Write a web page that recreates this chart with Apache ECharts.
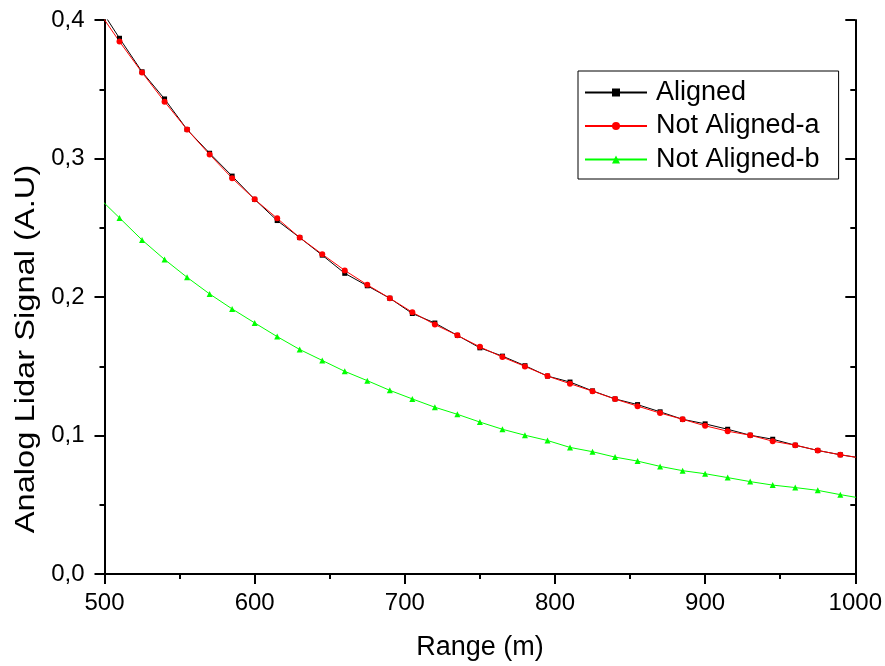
<!DOCTYPE html>
<html>
<head>
<meta charset="utf-8">
<script src="https://cdn.jsdelivr.net/npm/echarts@6/dist/echarts.min.js"></script>
<style>
html, body { margin: 0; padding: 0; background: #fff; }
#main { width: 885px; height: 666px; }
</style>
</head>
<body>
<div id="main"></div>
<script>
// range values (m), one point every 15 m
var range = [495, 510, 525, 540, 555, 570, 585, 600, 615, 630, 645, 660, 675, 690, 705, 720, 735,
    750, 765, 780, 795, 810, 825, 840, 855, 870, 885, 900, 915, 930, 945, 960, 975, 990, 1005];

var aligned = [0.412, 0.3868, 0.3626, 0.3430, 0.3209, 0.3038, 0.2873, 0.2705, 0.2552, 0.2429, 0.2302,
    0.2171, 0.2081, 0.1991, 0.1881, 0.1812, 0.1723, 0.1633, 0.1573, 0.1504, 0.1429, 0.1386, 0.1322,
    0.1264, 0.1223, 0.1171, 0.1117, 0.1084, 0.1045, 0.1002, 0.0973, 0.0930, 0.0892, 0.0861, 0.0835];

var notAlignedA = [0.408, 0.3844, 0.3621, 0.3410, 0.3209, 0.3029, 0.2858, 0.2705, 0.2568, 0.2429, 0.2309,
    0.2192, 0.2088, 0.1991, 0.1890, 0.1801, 0.1723, 0.1640, 0.1566, 0.1499, 0.1429, 0.1374, 0.1320,
    0.1263, 0.1212, 0.1162, 0.1117, 0.1070, 0.1031, 0.1002, 0.0959, 0.0930, 0.0892, 0.0861, 0.0835];

var notAlignedB = [0.273, 0.2571, 0.2412, 0.2271, 0.2142, 0.2022, 0.1914, 0.1813, 0.1714, 0.1621, 0.1542,
    0.1463, 0.1396, 0.1326, 0.1264, 0.1204, 0.1153, 0.1097, 0.1045, 0.1002, 0.0964, 0.0914, 0.0883,
    0.0844, 0.0815, 0.0777, 0.0746, 0.0724, 0.0696, 0.0667, 0.0642, 0.0624, 0.0604, 0.0573, 0.0545];

var seriesNames = ['Aligned', 'Not Aligned-a', 'Not Aligned-b'];

function pairs(ys) {
    return range.map(function (x, i) { return [x, ys[i]]; });
}

var font = 'Liberation Sans, Arial, sans-serif';
var axisLine = { lineStyle: { color: '#000', width: 2 } };

var myChart = echarts.init(document.getElementById('main'));

var option = {
    animation: false,
    grid: { left: 104.5, right: 27.5, top: 20, bottom: 90 },
    legend: {
        orient: 'vertical',
        left: 578,
        top: 71,
        padding: [8, 19, 6, 6],
        itemGap: 6.5,
        itemWidth: 62,
        itemHeight: 10,
        borderColor: '#000',
        borderWidth: 1,
        textStyle: { fontFamily: font, fontSize: 27, color: '#000', padding: [0, 0, 0, 4] },
        data: seriesNames
    },
    xAxis: [
        {
            type: 'value',
            min: 500,
            max: 1000,
            interval: 100,
            name: 'Range (m)',
            nameLocation: 'middle',
            nameGap: 60,
            nameTextStyle: { fontFamily: font, fontSize: 27, color: '#000' },
            axisLine: axisLine,
            axisTick: { length: 10, lineStyle: { color: '#000', width: 2 } },
            minorTick: { show: true, splitNumber: 2, length: 5, lineStyle: { color: '#000', width: 2 } },
            axisLabel: {
                fontFamily: font, fontSize: 24, color: '#000', margin: 17,
                formatter: function (v) { return String(v); }
            },
            splitLine: { show: false }
        },
        {
            type: 'value',
            position: 'top',
            min: 500,
            max: 1000,
            interval: 100,
            axisLine: axisLine,
            axisTick: { inside: true, length: 10, lineStyle: { color: '#000', width: 2 } },
            minorTick: { show: true, splitNumber: 2, length: 5, lineStyle: { color: '#000', width: 2 } },
            axisLabel: { show: false },
            splitLine: { show: false }
        }
    ],
    yAxis: [
        {
            type: 'value',
            min: 0,
            max: 0.4,
            interval: 0.1,
            axisLine: axisLine,
            axisTick: { length: 10, lineStyle: { color: '#000', width: 2 } },
            minorTick: { show: true, splitNumber: 2, length: 5, lineStyle: { color: '#000', width: 2 } },
            axisLabel: {
                fontFamily: font, fontSize: 24, color: '#000', margin: 20,
                formatter: function (v) { return v.toFixed(1).replace('.', ','); }
            },
            splitLine: { show: false }
        },
        {
            type: 'value',
            position: 'right',
            min: 0,
            max: 0.4,
            interval: 0.1,
            axisLine: axisLine,
            axisTick: { inside: true, length: 10, lineStyle: { color: '#000', width: 2 } },
            minorTick: { show: true, splitNumber: 2, length: 5, lineStyle: { color: '#000', width: 2 } },
            axisLabel: { show: false },
            splitLine: { show: false }
        }
    ],
    graphic: [
        {
            // y axis title, stretched along its length like the original export
            type: 'text',
            x: 26.5,
            y: 349,
            rotation: Math.PI / 2,
            scaleX: 1.21,
            style: {
                text: 'Analog Lidar Signal (A.U)',
                fontFamily: font,
                fontSize: 27,
                fill: '#000',
                align: 'center',
                verticalAlign: 'middle'
            }
        }
    ],
    series: [
        {
            name: seriesNames[0],
            type: 'line',
            data: pairs(aligned),
            symbol: 'rect',
            symbolSize: 5,
            showAllSymbol: true,
            itemStyle: { color: '#000' },
            lineStyle: { color: '#000', width: 1 }
        },
        {
            name: seriesNames[1],
            type: 'line',
            data: pairs(notAlignedA),
            symbol: 'circle',
            symbolSize: 6,
            showAllSymbol: true,
            itemStyle: { color: '#ff0000' },
            lineStyle: { color: '#ff0000', width: 1 }
        },
        {
            name: seriesNames[2],
            type: 'line',
            data: pairs(notAlignedB),
            symbol: 'triangle',
            symbolSize: 6,
            showAllSymbol: true,
            itemStyle: { color: '#00ff00' },
            lineStyle: { color: '#00ff00', width: 1 }
        }
    ]
};

myChart.setOption(option);
</script>
</body>
</html>
